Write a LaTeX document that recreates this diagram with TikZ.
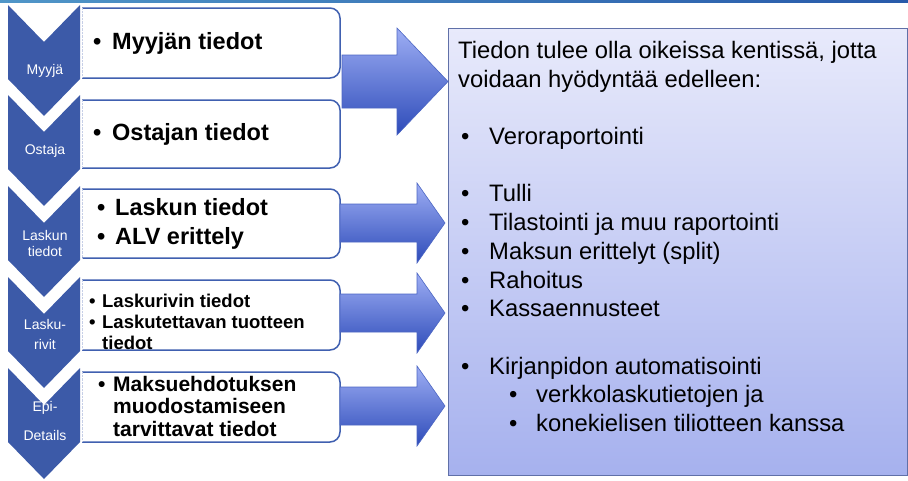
\documentclass[tikz,border=0pt]{standalone}
\usepackage{fontspec}
\setmainfont{Liberation Sans}
\usepackage{tikz}
\usetikzlibrary{positioning}
\definecolor{chevblue}{RGB}{60,90,168}
\definecolor{boxline}{RGB}{64,96,176}
\definecolor{arrlight}{RGB}{158,174,244}
\definecolor{arrdark}{RGB}{45,75,185}
\definecolor{panellight}{RGB}{232,234,251}
\definecolor{paneldark}{RGB}{166,177,238}
\definecolor{panelline}{RGB}{96,112,168}
\definecolor{stripleft}{RGB}{80,150,200}
\definecolor{stripright}{RGB}{40,90,170}
\newcommand\bul[1]{\makebox[#1][l]{\textbullet}}

\begin{document}
\begin{tikzpicture}
            [
            x=1pt, y=-1pt,
            chevron/.style={fill=chevblue},
            steplabel/.style={text=white, inner sep=0pt, align=center, font=\fontsize{14}{16}\selectfont},
            infobox/.style={draw=boxline, line width=1.5pt, fill=white, rounded corners=10pt},
            infotext/.style={anchor=west, inner sep=0pt, align=left, font=\bfseries\fontsize{23.5}{29}\selectfont},
            bigarrow/.style={top color=arrlight, bottom color=arrdark, draw=arrdark!85, line width=0.6pt},
            panel/.style={top color=panellight, bottom color=paneldark, draw=panelline, line width=0.8pt}
            ]
        \useasboundingbox (0,0) rectangle (908,480);
        \shade[left color=stripleft, right color=stripright] (0,0) rectangle (908,2.5);

        % vaiheet
        \foreach \t in {5,95,186,277,368}
            \fill[chevron] (8,\t) -- (44,\t+37) -- (80,\t) -- (80,\t+74) -- (44,\t+111) -- (8,\t+74) -- cycle;
        \node[steplabel] (myyja) at (45,71) {Myyjä};
        \node[steplabel] (ostaja) at (45,151) {Ostaja};
        \node[steplabel] (lasku) at (45,243) {Laskun\\tiedot};
        \node[steplabel] (rivit) at (45,334) {Lasku-\\[4pt]rivit};
        \node[steplabel] (epi) at (45,421) {Epi-\\[13pt]Details};

        % tietolaatikot
        \foreach \top/\bot in {8/78,100/168,189/258,280/350,372/442}
        {
            \filldraw[infobox] (82,\top) -- (340,\top) -- (340,\bot) -- (82,\bot);
            \draw[densely dotted, boxline!30] (82,\top) -- (82,\bot);
        }
        \node[infotext] (t1) at (93,43) {\bul{19pt}Myyjän tiedot};
        \node[infotext] (t2) at (93,134) {\bul{19pt}Ostajan tiedot};
        \node[infotext] (t3) at (97,224) {\bul{18pt}Laskun tiedot\\\bul{18pt}ALV erittely};
        \node[infotext, font=\bfseries\fontsize{18.5}{21}\selectfont] (t4) at (89,322)
            {\bul{13pt}Laskurivin tiedot\\\bul{13pt}Laskutettavan tuotteen\\\hspace*{13pt}tiedot};
        \node[infotext, font=\bfseries\fontsize{21}{22.5}\selectfont] (t5) at (98,406)
            {\bul{15pt}Maksuehdotuksen\\\hspace*{15pt}muodostamiseen\\\hspace*{15pt}tarvittavat tiedot};

        % käyttökohteet
        \shade[panel] (448,28) rectangle (907,475);
        \node[anchor=north west, inner sep=0pt, align=left, font=\fontsize{23.8}{28.7}\selectfont] (kaytto) at (458,41)
            {Tiedon tulee olla oikeissa kentissä, jotta\\
             voidaan hyödyntää edelleen:\\[28.7pt]
             \hspace*{3pt}\bul{28pt}Veroraportointi\\[28.7pt]
             \hspace*{3pt}\bul{28pt}Tulli\\
             \hspace*{3pt}\bul{28pt}Tilastointi ja muu raportointi\\
             \hspace*{3pt}\bul{28pt}Maksun erittelyt (split)\\
             \hspace*{3pt}\bul{28pt}Rahoitus\\
             \hspace*{3pt}\bul{28pt}Kassaennusteet\\[28.7pt]
             \hspace*{3pt}\bul{28pt}Kirjanpidon automatisointi\\
             \hspace*{51pt}\bul{27pt}verkkolaskutietojen ja\\
             \hspace*{51pt}\bul{27pt}konekielisen tiliotteen kanssa};

        % nuolet
        \shade[bigarrow] (342,55) -- (397,55) -- (397,28) -- (448,81.5) -- (397,135) -- (397,108) -- (342,108) -- cycle;
        \foreach \c in {223,313,406}
            \shade[bigarrow] (340,\c-19) -- (417,\c-19) -- (417,\c-40) -- (445,\c) -- (417,\c+40) -- (417,\c+19) -- (340,\c+19) -- cycle;
        \end{tikzpicture}
\end{document}
